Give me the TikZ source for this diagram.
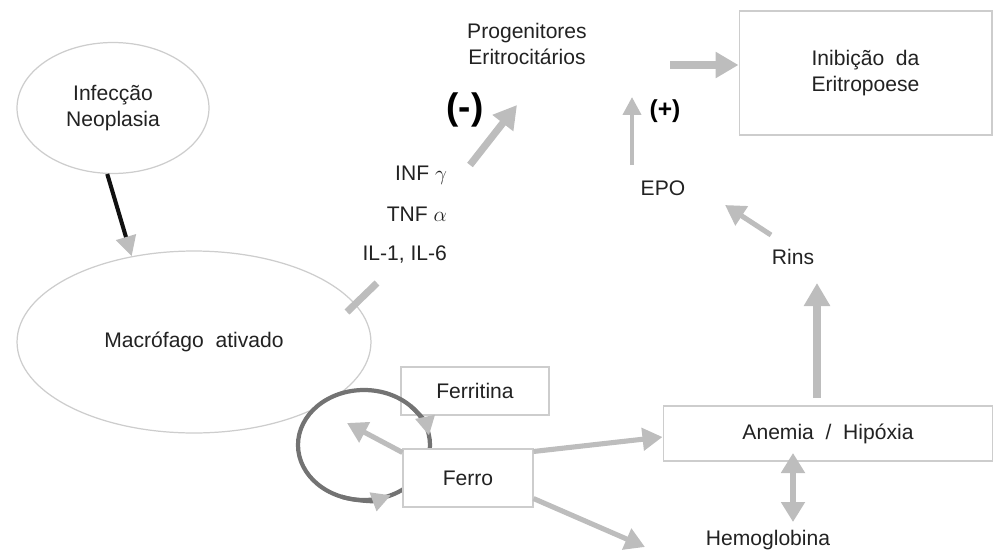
\documentclass[tikz,border=0pt]{standalone}
\usepackage{fontspec}
\setmainfont{Liberation Sans}
\usetikzlibrary{arrows.meta,positioning,calc,shapes.geometric}
\definecolor{Ink}{HTML}{222222}
\definecolor{Frame}{HTML}{CDCDCD}
\definecolor{Flow}{HTML}{BDBDBD}
\definecolor{Loop}{HTML}{737373}
\definecolor{Bolt}{HTML}{111111}
\tikzset{
  lbl/.style={font=\fontsize{12}{14.5}\selectfont,text=Ink,align=center,inner sep=1pt},
  cell/.style={ellipse,draw=Frame,line width=0.7pt,fill=white,lbl},
  panel/.style={draw=Frame,line width=0.6pt,fill=white,lbl},
  sign/.style={text=black,inner sep=0pt},
  bigarr/.style={-{Triangle[length=0.46cm,width=0.5cm]},draw=Flow,line width=4.1pt},
  midarr/.style={-{Triangle[length=0.4cm,width=0.44cm]},draw=Flow,line width=2.9pt},
  twoarr/.style={<->,>={Triangle[length=0.4cm,width=0.46cm]},draw=Flow,line width=3.2pt},
  smallarr/.style={-{Triangle[length=0.36cm,width=0.36cm]},draw=Flow,line width=2.3pt},
  cause/.style={-{Triangle[length=0.4cm,width=0.4cm,color=Flow]},draw=Bolt,line width=2.3pt},
  block/.style={draw=Flow,line width=4pt},
  ring/.style={draw=Loop,line width=2.4pt},
  ringtip/.style={-{Triangle[length=0.38cm,width=0.38cm,color=Flow]},draw=Loop,line width=2.4pt}
}
\begin{document}
\begin{tikzpicture}[x=0.02cm,y=0.02cm]
  \useasboundingbox (0,0) rectangle (993,549);
  % cells
  \node[cell,minimum width=7.08cm,minimum height=3.64cm] (macro) at (194,207) {Macrófago\ \ ativado};
  \node[cell,minimum width=3.84cm,minimum height=2.62cm] (infec) at (113,441) {Infecção\\Neoplasia};
  % iron loop
  \coordinate (loop) at (364,104);
  \fill[white] (loop) ellipse [x radius=66,y radius=55];
  \node[panel,minimum width=2.96cm,minimum height=0.96cm] (ferritina) at (475,158) {Ferritina};
  \draw[ring] (loop) ellipse [x radius=66,y radius=55];
  \draw[ringtip] ($(loop)+(45:66 and 55)$) arc[start angle=45,end angle=10,x radius=66,y radius=55];
  \draw[ringtip] ($(loop)+(250:66 and 55)$) arc[start angle=250,end angle=294,x radius=66,y radius=55];
  \node[panel,minimum width=2.6cm,minimum height=1.16cm] (ferro) at (468,71) {Ferro};
  % texts and boxes
  \node[lbl] (prog) at (527,505) {Progenitores\\Eritrocitários};
  \node[panel,minimum width=5.06cm,minimum height=2.48cm] (inib) at (865.5,476) {Inibição\ \ da\\Eritropoese};
  \node[panel,minimum width=6.6cm,minimum height=1.1cm] (anem) at (828,115.5) {Anemia\ \ /\ \ Hipóxia};
  \node[lbl,anchor=base] (hemo) at (768,4) {Hemoglobina};
  \node[lbl] (epo) at (663,361) {EPO};
  \node[lbl] (rins) at (793,292) {Rins};
  \node[lbl,anchor=east] (inf) at (449,374) {INF $\gamma$};
  \node[lbl,anchor=east] (tnf) at (449,334.5) {TNF $\alpha$};
  \node[lbl,anchor=east] (il) at (449,294.5) {IL-1, IL-6};
  \node[sign,font=\fontsize{21}{24}\selectfont\bfseries] (minus) at (465,439) {(-)};
  \node[sign,font=\fontsize{14}{16}\selectfont\bfseries] (plus) at (665,438) {(+)};
  % free ends
  \coordinate (stopa) at (347,237);
  \coordinate (stopb) at (377,266);
  \coordinate (cyto) at (470,384);
  \coordinate (progin) at (517,444);
  \coordinate (progout) at (670,484);
  \coordinate (epoup) at (632,384);
  \coordinate (epotop) at (632,452);
  \coordinate (rinsout) at (771,314);
  \coordinate (epoin) at (725,344);
  \coordinate (anemup) at (817,151);
  \coordinate (rinsin) at (817,266);
  \coordinate (anemlow) at (793,96);
  \coordinate (hemotop) at (793,27);
  \coordinate (hemoin) at (645,2);
  \coordinate (loopin) at (347,126);
  % connectors
  \draw[cause] (infec.265) -- (macro.126);
  \draw[block] (stopa) -- (stopb);
  \draw[bigarr] (cyto) -- (progin);
  \draw[bigarr] (progout) -- (progout -| inib.west);
  \draw[smallarr] (epoup) -- (epotop);
  \draw[midarr] (rinsout) -- (epoin);
  \draw[bigarr] (anemup) -- (rinsin);
  \draw[twoarr] (hemotop) -- (anemlow);
  \draw[midarr] ([yshift=-0.06cm]ferro.north east) -- ([yshift=-0.07cm]anem.west);
  \draw[midarr] ([yshift=0.18cm]ferro.south east) -- (hemoin);
  \draw[midarr] ([yshift=-0.08cm]ferro.north west) -- (loopin);
\end{tikzpicture}
\end{document}
